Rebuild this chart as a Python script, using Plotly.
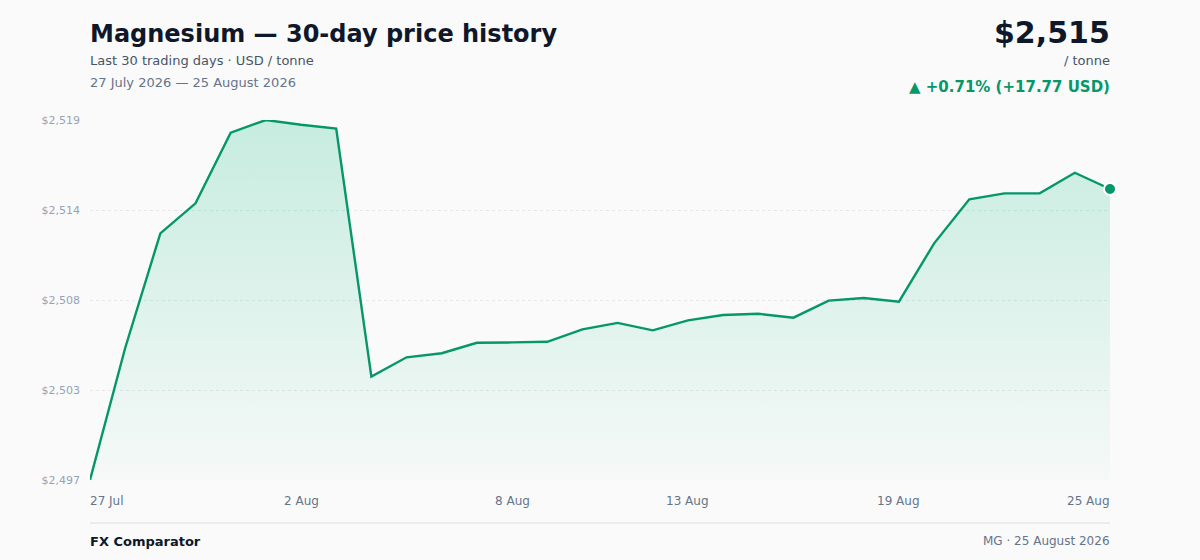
import numpy as np
import pandas as pd
import plotly.graph_objects as go

# Daily closing prices, USD / tonne (27 Jul - 25 Aug 2026)
dates = pd.date_range("2026-07-27", "2026-08-25", freq="D")
prices = [
    2497.20, 2505.26, 2512.26, 2514.09, 2518.41, 2519.18, 2518.89, 2518.65,
    2503.51, 2504.69, 2504.94, 2505.58, 2505.60, 2505.64, 2506.40, 2506.79,
    2506.34, 2506.95, 2507.27, 2507.35, 2507.11, 2508.15, 2508.31, 2508.09,
    2511.65, 2514.34, 2514.70, 2514.70, 2515.96, 2514.97,
]

x_tick_dates = ["2026-07-27", "2026-08-02", "2026-08-08", "2026-08-13", "2026-08-19", "2026-08-25"]
x_tick_text = ["27 Jul", "2 Aug", "8 Aug", "13 Aug", "19 Aug", "25 Aug"]
y_tick_text = ["$2,497", "$2,503", "$2,508", "$2,514", "$2,519"]

GREEN = "#059669"
BG = "#fafafa"
FONT = "DejaVu Sans"

y_min, y_max = min(prices), max(prices)
change = prices[-1] - prices[0]
change_pct = change / prices[0] * 100

# plot area in pixels: top=120, bottom=480
def py(pixel_y):
    return (480 - pixel_y) / 360

fig = go.Figure()

fig.add_trace(go.Scatter(
    x=dates, y=prices,
    mode="lines",
    line=dict(color=GREEN, width=2.4),
    fill="tozeroy",
    fillgradient=dict(
        type="vertical",
        colorscale=[[0, "rgba(16,185,129,0.02)"], [1, "rgba(16,185,129,0.22)"]],
        start=y_min, stop=y_max,
    ),
    hoverinfo="skip",
    showlegend=False,
))

# Highlight the latest close
fig.add_trace(go.Scatter(
    x=[dates[-1]], y=[prices[-1]],
    mode="markers",
    marker=dict(color=GREEN, size=12, line=dict(color="white", width=2)),
    hoverinfo="skip",
    showlegend=False,
    cliponaxis=False,
))

fig.update_xaxes(
    range=[dates[0], dates[-1]],
    showgrid=False, zeroline=False, showline=False,
    showticklabels=False,
)
fig.update_yaxes(
    range=[y_min, y_max],
    tickvals=np.linspace(y_min, y_max, 5),
    ticktext=y_tick_text,
    tickfont=dict(family=FONT, size=11, color="#94a3b8"),
    ticklabelstandoff=9,
    showgrid=True, gridcolor="#e5e7eb", griddash="dot", gridwidth=1,
    zeroline=False, showline=False,
)

annotations = []

# x tick labels, first left-aligned, last right-aligned
for i, (d, t) in enumerate(zip(x_tick_dates, x_tick_text)):
    anchor = "left" if i == 0 else ("right" if i == len(x_tick_dates) - 1 else "center")
    shift = {"left": -2, "right": 2, "center": 0}[anchor]
    annotations.append(dict(
        x=d, y=py(501), xref="x", yref="paper", text=t, showarrow=False,
        xanchor=anchor, yanchor="middle", xshift=shift,
        font=dict(family=FONT, size=12, color="#64748b"),
    ))

# header, left
annotations += [
    dict(x=0, y=py(34), xref="paper", yref="paper", xanchor="left", yanchor="middle",
         text="<b>Magnesium — 30-day price history</b>", showarrow=False,
         font=dict(family=FONT, size=24, color="#0f172a")),
    dict(x=0, y=py(61), xref="paper", yref="paper", xanchor="left", yanchor="middle",
         text="Last 30 trading days · USD / tonne", showarrow=False,
         font=dict(family=FONT, size=13, color="#475569")),
    dict(x=0, y=py(83), xref="paper", yref="paper", xanchor="left", yanchor="middle",
         text="27 July 2026 — 25 August 2026", showarrow=False,
         font=dict(family=FONT, size=13, color="#64748b")),
]

# header, right
annotations += [
    dict(x=1, y=py(32), xref="paper", yref="paper", xanchor="right", yanchor="middle",
         text=f"<b>${prices[-1]:,.0f}</b>", showarrow=False,
         font=dict(family=FONT, size=30, color="#0f172a")),
    dict(x=1, y=py(61), xref="paper", yref="paper", xanchor="right", yanchor="middle",
         text="/ tonne", showarrow=False,
         font=dict(family=FONT, size=13, color="#475569")),
    dict(x=1, y=py(87), xref="paper", yref="paper", xanchor="right", yanchor="middle",
         text=f"<b>▲ +{change_pct:.2f}% (+{change:.2f} USD)</b>", showarrow=False,
         font=dict(family=FONT, size=15, color=GREEN)),
]

# footer
annotations += [
    dict(x=0, y=py(541), xref="paper", yref="paper", xanchor="left", yanchor="middle",
         text="<b>FX Comparator</b>", showarrow=False,
         font=dict(family=FONT, size=13, color="#0f172a")),
    dict(x=1, y=py(541), xref="paper", yref="paper", xanchor="right", yanchor="middle",
         text="MG · 25 August 2026", showarrow=False,
         font=dict(family=FONT, size=12, color="#64748b")),
]

for a in annotations:
    if a["xref"] == "paper":
        a["xshift"] = -2 if a["xanchor"] == "left" else 2

fig.update_layout(
    width=1200, height=560,
    margin=dict(l=90, r=90, t=120, b=80),
    paper_bgcolor=BG, plot_bgcolor=BG,
    annotations=annotations,
    shapes=[dict(type="line", xref="paper", yref="paper",
                 x0=0, x1=1, y0=py(523), y1=py(523),
                 line=dict(color="#e5e7eb", width=1.5))],
    hovermode=False,
)

fig.write_html(
    "out.html",
    config={"displayModeBar": False},
    post_script="document.body.style.margin='0';document.body.style.background='#fafafa';",
)
